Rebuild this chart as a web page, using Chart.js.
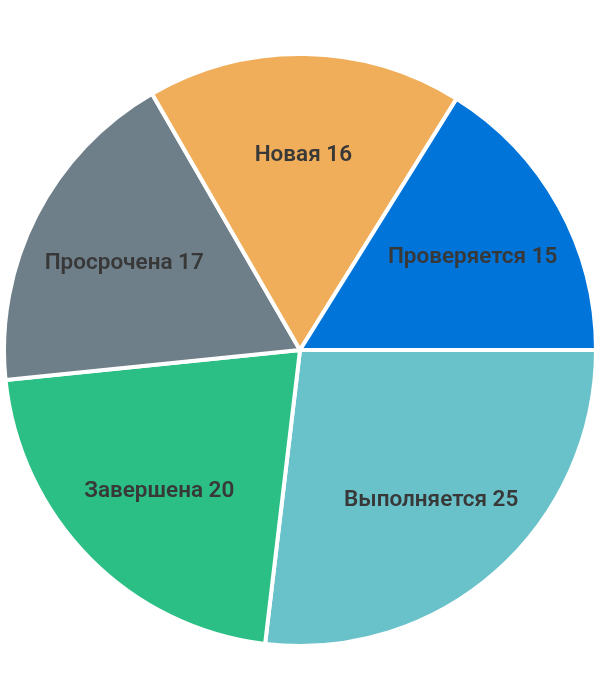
<!DOCTYPE html>
<html>
<head>
<meta charset="utf-8">
<script src="https://cdn.jsdelivr.net/npm/chart.js@4"></script>
<style>
html,body{margin:0;padding:0;background:#fff;}
#wrap{width:600px;height:700px;}
</style>
</head>
<body>
<div id="wrap"><canvas id="c" width="600" height="700"></canvas></div>
<script>
const categories = ['Выполняется', 'Завершена', 'Просрочена', 'Новая', 'Проверяется'];
const values = [25, 20, 17, 16, 15];
const colors = ['#69C2CA', '#2BBF85', '#6E7F8A', '#F0AE5A', '#0074D9'];

const labelPlugin = {
  id: 'sliceLabels',
  afterDatasetsDraw(chart) {
    const ctx = chart.ctx;
    const meta = chart.getDatasetMeta(0);
    ctx.save();
    ctx.font = '600 22.5px Roboto';
    ctx.fillStyle = '#383838';
    ctx.textAlign = 'center';
    ctx.textBaseline = 'middle';
    meta.data.forEach((arc, i) => {
      const p = arc.getProps(['x','y','startAngle','endAngle','outerRadius'], true);
      const mid = (p.startAngle + p.endAngle) / 2;
      const r = p.outerRadius * 0.667;
      ctx.fillText(categories[i] + ' ' + values[i], p.x + Math.cos(mid) * r, p.y + Math.sin(mid) * r + 3);
    });
    ctx.restore();
  }
};

new Chart(document.getElementById('c'), {
  type: 'pie',
  data: {
    labels: categories,
    datasets: [{
      data: values,
      backgroundColor: colors,
      borderColor: '#ffffff',
      borderWidth: 4
    }]
  },
  options: {
    responsive: false,
    animation: false,
    rotation: 90,
    layout: { padding: 2 },
    plugins: { legend: { display: false }, tooltip: { enabled: false } }
  },
  plugins: [labelPlugin]
});
</script>
</body>
</html>
